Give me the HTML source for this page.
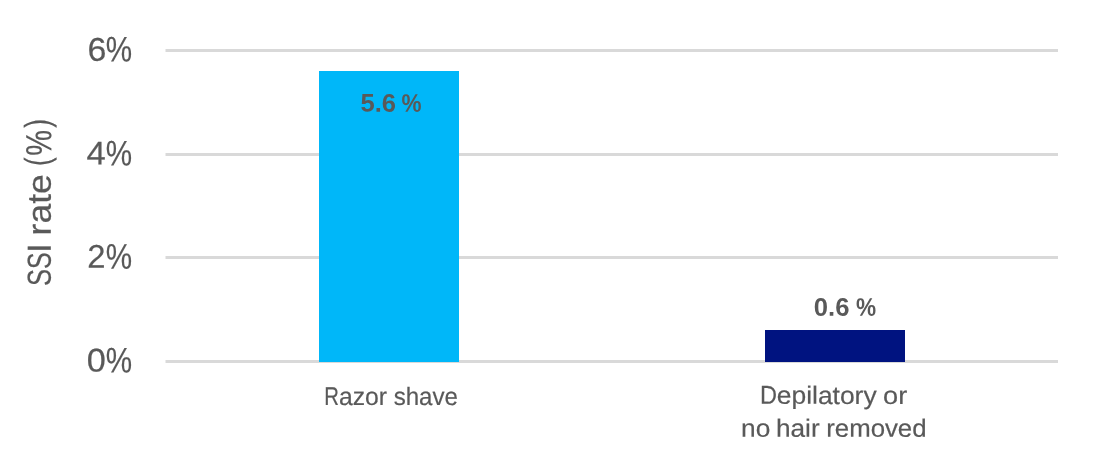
<!DOCTYPE html>
<html lang="en">
<head>
<meta charset="utf-8">
<title>SSI rate by hair removal method</title>
<style>
  html, body { margin: 0; padding: 0; background: #ffffff; }
  body { width: 1108px; height: 461px; overflow: hidden; }
  svg { display: block; }
  text { font-family: "Liberation Sans", sans-serif; fill: #595959; white-space: pre; }
  .axis, .cat { stroke: #595959; stroke-width: 0.2px; }
  .val { font-weight: bold; }
</style>
</head>
<body>
<svg width="1108" height="461" viewBox="0 0 1108 461">
  <rect x="0" y="0" width="1108" height="461" fill="#ffffff"/>
  <g stroke="#d9d9d9" stroke-width="3" fill="none">
    <line x1="165.5" y1="50.5" x2="1058" y2="50.5"/>
    <line x1="165.5" y1="154.5" x2="1058" y2="154.5"/>
    <line x1="165.5" y1="257.5" x2="1058" y2="257.5"/>
    <line x1="165.5" y1="361.5" x2="1058" y2="361.5"/>
  </g>
  <rect x="319" y="71" width="140" height="291" fill="#00b7f9"/>
  <rect x="765" y="330" width="140" height="32" fill="#001380"/>
  <text class="axis" transform="rotate(0.05 110.15 53.15)"><tspan x="87.4" y="60.7" font-size="32.8" textLength="18.86" lengthAdjust="spacingAndGlyphs">6</tspan><tspan x="105.86" y="61.6" font-size="35.6" textLength="26.35" lengthAdjust="spacingAndGlyphs">%</tspan></text>
  <text class="axis" transform="rotate(0.05 109.3 157)"><tspan x="86.54" y="164.55" font-size="32.8" textLength="19.24" lengthAdjust="spacingAndGlyphs">4</tspan><tspan x="105.86" y="165.45" font-size="35.6" textLength="26.35" lengthAdjust="spacingAndGlyphs">%</tspan></text>
  <text class="axis" transform="rotate(0.05 110.05 260.35)"><tspan x="87.26" y="267.9" font-size="32.8" textLength="18.27" lengthAdjust="spacingAndGlyphs">2</tspan><tspan x="105.86" y="268.8" font-size="35.6" textLength="26.35" lengthAdjust="spacingAndGlyphs">%</tspan></text>
  <text class="axis" transform="rotate(0.05 109.7 364.05)"><tspan x="86.83" y="371.6" font-size="32.8" textLength="19.09" lengthAdjust="spacingAndGlyphs">0</tspan><tspan x="105.86" y="372.5" font-size="35.6" textLength="26.35" lengthAdjust="spacingAndGlyphs">%</tspan></text>
  <text class="val" transform="rotate(0.05 391.05 103.65)"><tspan x="360.43" y="111.65" font-size="25.3" textLength="35.57" lengthAdjust="spacingAndGlyphs">5.6</tspan> <tspan x="401.44" y="111.65" font-size="25.3" textLength="20.01" lengthAdjust="spacingAndGlyphs">%</tspan></text>
  <text class="val" transform="rotate(0.05 845.15 307.8)"><tspan x="813.77" y="315.8" font-size="25.3" textLength="35.63" lengthAdjust="spacingAndGlyphs">0.6</tspan> <tspan x="855.93" y="315.8" font-size="25.3" textLength="20.11" lengthAdjust="spacingAndGlyphs">%</tspan></text>
  <text class="cat" transform="rotate(0.05 391.38 397)"><tspan x="324.17" y="405" font-size="25.9" textLength="14.69" lengthAdjust="spacingAndGlyphs">R</tspan><tspan x="338.99" y="405" font-size="25" textLength="48.04" lengthAdjust="spacingAndGlyphs">azor</tspan> <tspan x="393.68" y="405" font-size="25" textLength="64.32" lengthAdjust="spacingAndGlyphs">shave</tspan></text>
  <text class="cat" transform="rotate(0.05 833.88 412.35)"><tspan x="759.92" y="403.9" font-size="25.9" textLength="16.99" lengthAdjust="spacingAndGlyphs">D</tspan><tspan x="776.81" y="403.9" font-size="25" textLength="99.82" lengthAdjust="spacingAndGlyphs">epilatory</tspan> <tspan x="883.12" y="403.9" font-size="25" textLength="24.07" lengthAdjust="spacingAndGlyphs">or</tspan> <tspan x="741.14" y="436.8" font-size="25" textLength="29.22" lengthAdjust="spacingAndGlyphs">no</tspan> <tspan x="775.97" y="436.8" font-size="25" textLength="43.69" lengthAdjust="spacingAndGlyphs">hair</tspan> <tspan x="826.22" y="436.8" font-size="25" textLength="100.37" lengthAdjust="spacingAndGlyphs">removed</tspan></text>
  <text class="axis" transform="translate(40 203) rotate(-90.05)"><tspan x="-83.05" y="10.6" font-size="33.3" textLength="17.05" lengthAdjust="spacingAndGlyphs">S</tspan><tspan x="-65.92" y="10.6" font-size="33.3" textLength="16.59" lengthAdjust="spacingAndGlyphs">S</tspan><tspan x="-49.73" y="10.6" font-size="33.3" textLength="9.36" lengthAdjust="spacingAndGlyphs">I</tspan> <tspan x="-32.41" y="10.7" font-size="33.3" textLength="61.14" lengthAdjust="spacingAndGlyphs">rate</tspan> <tspan x="36.96" y="9.3" font-size="35.1" textLength="8.55" lengthAdjust="spacingAndGlyphs">(</tspan><tspan x="47.28" y="11.3" font-size="36.3" textLength="25.81" lengthAdjust="spacingAndGlyphs">%</tspan><tspan x="75.33" y="9.3" font-size="35.1" textLength="8.84" lengthAdjust="spacingAndGlyphs">)</tspan></text>
</svg>
</body>
</html>
